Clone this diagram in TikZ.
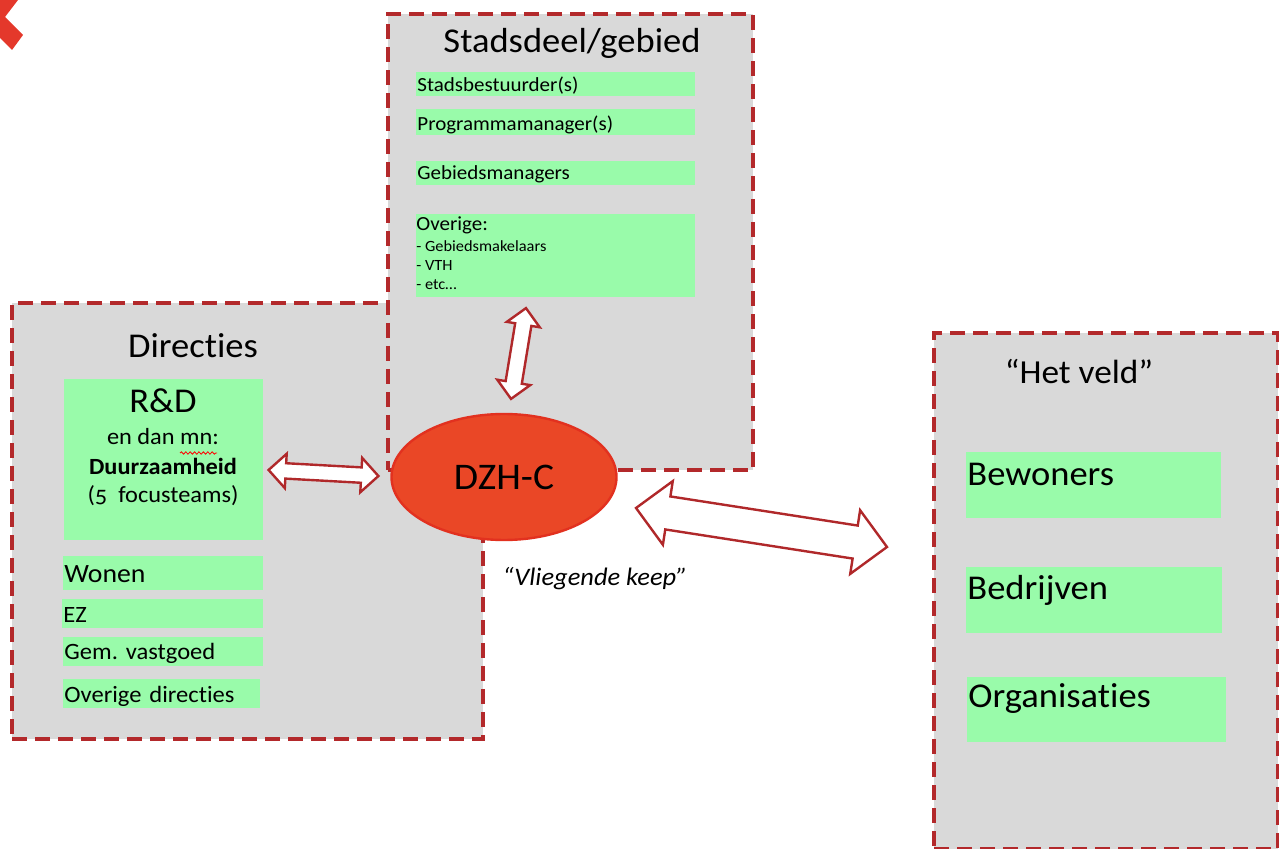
\documentclass[tikz,border=0pt]{standalone}
\usepackage{fontspec}
\setmainfont{Carlito}[FakeStretch=1.05,Numbers=OldStyle,Ligatures=NoCommon]
\usepackage{xcolor}
\usepackage{tikz}
\usetikzlibrary{positioning,shapes.geometric,shapes.arrows,decorations.pathmorphing}
\frenchspacing

\definecolor{boxgray}{HTML}{D9D9D9}
\definecolor{itemgreen}{HTML}{99FBAA}
\definecolor{dashred}{HTML}{B3292B}
\definecolor{dzhfill}{HTML}{EA4726}
\definecolor{dzhline}{HTML}{E2311F}
\definecolor{arrowred}{HTML}{B0282A}
\definecolor{markred}{HTML}{E4382B}

\tikzset{
  groupbox/.style={draw=dashred, fill=boxgray, line width=2pt, dash pattern=on 7.5pt off 4pt, anchor=north west, inner sep=0pt},
  grouptitle/.style={anchor=base, inner sep=0pt, font=\fontsize{17.4}{20}\selectfont},
  greenitem/.style={fill=itemgreen, anchor=north west, inner xsep=0.5pt, inner ysep=0pt, align=left},
  textline/.style={inner sep=0pt, anchor=base},
  dblarrow/.style={double arrow, draw=arrowred, fill=white, line width=1.2pt, inner xsep=0pt, double arrow tip angle=90}
}

\begin{document}
\begin{tikzpicture}[x=0.5pt, y=-0.5pt]
\useasboundingbox (0,0) rectangle (1279,849);

% corner mark
\fill[markred] (0,0) -- (18,0) -- (5,17) -- (23,35) -- (12,50) -- (0,38) -- cycle;

% Directies
\node (directies) [groupbox, minimum width=235.5pt, minimum height=218pt] at (10,301) {};
\node (dirtitle) [grouptitle] at (193,358) {Directies};
\node (rnd) [greenitem, minimum width=99.5pt, minimum height=80.5pt] at (64,379) {};
\node (rndtitle) [grouptitle] at (163,413) {R\&D};
\node (rndsub) [textline, font=\fontsize{11.6}{14}\selectfont] at (163,445) {en dan mn:};
\node (rndfocus) [textline, font=\fontsize{11.6}{14}\selectfont\bfseries] at (163,475) {Duurzaamheid};
\node (rndteams) [textline, font=\fontsize{11.6}{14}\selectfont] at (163,503) {(5\ \ focusteams)};
\draw[red, line width=0.4pt, decorate, decoration={snake, amplitude=0.6pt, segment length=2.2pt}] (180,453) -- (217,453);
\node (wonen) [greenitem, text width=99pt, text height=13pt, text depth=4pt, font=\fontsize{13.2}{15}\selectfont] at (63,556) {Wonen};
\node (ez) [greenitem, text width=99.5pt, text height=11.5pt, text depth=3pt, font=\fontsize{11.7}{14}\selectfont] at (62,599) {EZ};
\node (gem) [greenitem, text width=99pt, text height=11pt, text depth=3.5pt, font=\fontsize{11.7}{14}\selectfont] at (63,637) {Gem. vastgoed};
\node (ovdir) [greenitem, text width=97.5pt, text height=11.5pt, text depth=3pt, font=\fontsize{11.7}{14}\selectfont] at (63,679) {Overige directies};

% Stadsdeel/gebied
\node (stadsdeel) [groupbox, minimum width=182.5pt, minimum height=228pt] at (386,12) {};
\node (sdtitle) [grouptitle] at (572,53) {Stadsdeel/gebied};
\node (sbest) [greenitem, text width=138.5pt, text height=9.5pt, text depth=2.5pt, font=\fontsize{10}{12}\selectfont] at (416,72) {Stadsbestuurder(s)};
\node (prog) [greenitem, text width=138.5pt, text height=10.5pt, text depth=2.5pt, font=\fontsize{10}{12}\selectfont, below=6pt of sbest] {Programmamanager(s)};
\node (gebman) [greenitem, text width=138.5pt, text height=9.5pt, text depth=2.5pt, font=\fontsize{10}{12}\selectfont, below=12.5pt of prog] {Gebiedsmanagers};
\node (overige) [greenitem, minimum width=139.5pt, minimum height=41.5pt, below=14pt of gebman] {};
\node (ovtitle) [textline, anchor=base west, font=\fontsize{10}{12}\selectfont] at (416,231) {Overige:};
\node (ovmak) [textline, anchor=base west, font=\fontsize{7.8}{9}\selectfont] at (416,252) {- Gebiedsmakelaars};
\node (ovvth) [textline, anchor=base west, font=\fontsize{7.8}{9}\selectfont] at (416,271) {- VTH};
\node (ovetc) [textline, anchor=base west, font=\fontsize{7.8}{9}\selectfont] at (416,290) {- etc\dots};

% DZH-C
\node (dzhc) [ellipse, draw=dzhline, fill=dzhfill, line width=1.2pt, minimum width=112.5pt, minimum height=63pt, inner sep=0pt, font=\fontsize{18.8}{22}\selectfont] at (504,477) {DZH-C};
\node (keep) [textline, font=\fontsize{12.6}{15}\selectfont\itshape] at (595,585) {“Vliegende keep”};

% Het veld
\node (veld) [groupbox, minimum width=172pt, minimum height=258pt] at (932,331) {};
\node (veldtitle) [grouptitle, font=\fontsize{16.8}{20}\selectfont] at (1079,384) {“Het veld”};
\node (bew) [greenitem, text width=126.5pt, text height=16.5pt, text depth=16.5pt, font=\fontsize{17.4}{20}\selectfont] at (966,452) {Bewoners};
\node (bedr) [greenitem, text width=127pt, text height=16pt, text depth=17pt, font=\fontsize{17.4}{20}\selectfont] at (966,567) {Bedrijven};
\node (org) [greenitem, text width=128.5pt, text height=15pt, text depth=17.5pt, font=\fontsize{17.4}{20}\selectfont] at (967,677) {Organisaties};

% arrows
\coordinate (vtop) at (526,308);
\coordinate (vbot) at (511,399);
\coordinate (hleft) at (269,470);
\coordinate (hright) at (378,476);
\coordinate (bleft) at (636,508);
\coordinate (bright) at (887,547);

\path (vbot) -- (vtop) node[dblarrow, midway, sloped, minimum height=46pt, minimum width=15.5pt, inner ysep=3.5pt, double arrow head extend=4.25pt] {};
\path (hleft) -- (hright) node[dblarrow, midway, sloped, minimum height=55pt, minimum width=16pt, inner ysep=3.25pt, double arrow head extend=4.75pt] {};
\path (bleft) -- (bright) node[dblarrow, midway, sloped, minimum height=127pt, minimum width=31pt, inner ysep=7.75pt, double arrow head extend=7.75pt] {};
\end{tikzpicture}
\end{document}
